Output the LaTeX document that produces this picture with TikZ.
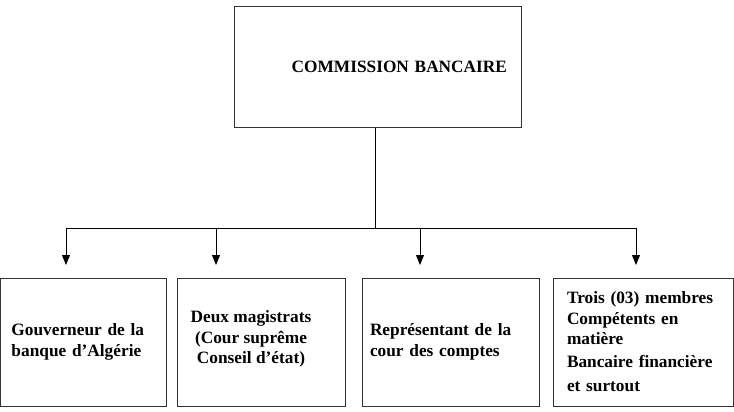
\documentclass[tikz,border=0pt]{standalone}
\usepackage{fontspec}
\setmainfont{Liberation Serif}
\usetikzlibrary{arrows.meta}

\begin{document}
\begin{tikzpicture}[
  x=1pt, y=-1pt,
  every node/.style={font=\bfseries\fontsize{17.3}{20.5}\selectfont},
  box/.style={draw=black!80, line width=1pt, minimum height=128pt, inner ysep=0pt},
]
\tikzset{>={Triangle[length=10pt, width=8pt]}}

\useasboundingbox (0,0) rectangle (734,412);

% Top box
\node[box, minimum height=120pt, text width=259pt, inner xsep=14pt, align=right] (cb) at (377.5,67) {COMMISSION BANCAIRE};

% Bottom row
\node[box, text width=143.5pt, inner xsep=11pt, align=left] (gov) at (83.25,342) {Gouverneur de la\\banque d’Algérie};
\node[box, minimum width=168pt] (mag) at (261,342) {};
\node[align=center, inner sep=0pt] (magtext) at (251,339) {Deux magistrats\\(Cour suprême\\Conseil d’état)};
\node[box, text width=161pt, inner xsep=8pt, align=left] (rep) at (450.5,342) {Représentant de la\\cour des comptes};
\node[box, text width=152.5pt, inner xsep=14pt, align=left] (mem) at (643.25,342) {Trois (03) membres\\Compétents en\\matière\\[2pt]Bancaire financière\\[4pt]et surtout};

% Branch points
\coordinate (split) at (375,228);
\coordinate (t1) at (66,265);
\coordinate (t2) at (216,265);
\coordinate (t3) at (420,265);
\coordinate (t4) at (636,265);

% Trunk and bus
\draw[line width=1pt] (cb.south -| split) -- (split);
\draw[line width=1pt] (split -| t1) -- (split -| t4);

% Arrows down
\draw[->, line width=1pt] (split -| t1) -- (t1);
\draw[->, line width=1pt] (split -| t2) -- (t2);
\draw[->, line width=1pt] (split -| t3) -- (t3);
\draw[->, line width=1pt] (split -| t4) -- (t4);

\end{tikzpicture}
\end{document}
